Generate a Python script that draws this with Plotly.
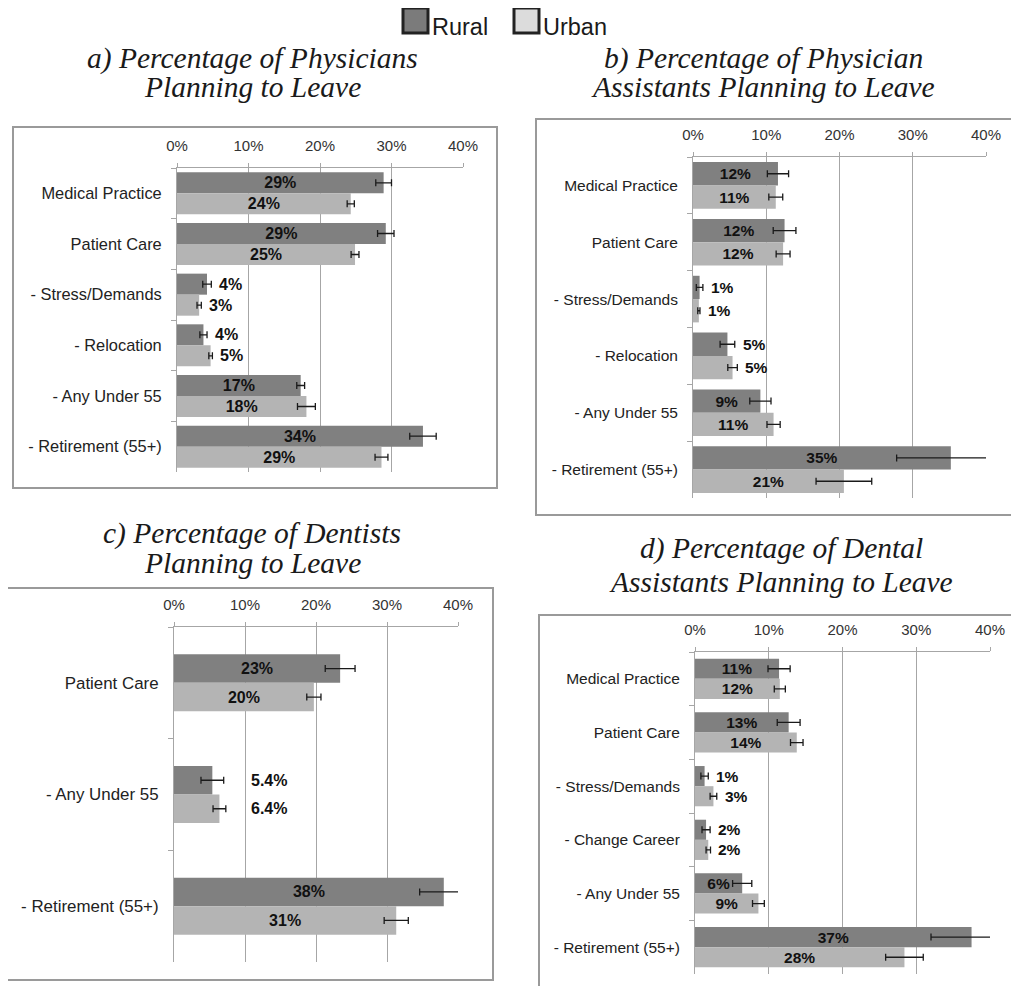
import plotly.graph_objects as go

# the page body keeps an 8px margin, so the figure is drawn 8px smaller and
# all pixel positions below are shifted by that offset
OFF = 8
W, H = 1019 - OFF, 986 - OFF

RURAL = "#808080"
URBAN = "#b4b4b4"
GRID = "#a6a6a6"
BOX = "#9a9a9a"
SANS = "Liberation Sans, Arial, sans-serif"
SERIF = "Liberation Serif, Times New Roman, serif"

# a) physicians
cats_a = ["Medical Practice", "Patient Care", "- Stress/Demands", "- Relocation",
          "- Any Under 55", "- Retirement (55+)"]
rural_a = [28.9, 29.2, 4.2, 3.7, 17.3, 34.4]
rural_err_a = [1.1, 1.15, 0.6, 0.5, 0.55, 1.85]
rural_lab_a = ["29%", "29%", "4%", "4%", "17%", "34%"]
urban_a = [24.3, 24.9, 3.1, 4.7, 18.1, 28.6]
urban_err_a = [0.5, 0.55, 0.3, 0.25, 1.25, 0.9]
urban_lab_a = ["24%", "25%", "3%", "5%", "18%", "29%"]

# b) physician assistants
cats_b = ["Medical Practice", "Patient Care", "- Stress/Demands", "- Relocation",
          "- Any Under 55", "- Retirement (55+)"]
rural_b = [11.6, 12.5, 0.9, 4.7, 9.2, 35.2]
rural_err_b = [1.45, 1.55, 0.45, 1.0, 1.45, 7.4]
rural_lab_b = ["12%", "12%", "1%", "5%", "9%", "35%"]
urban_b = [11.3, 12.3, 0.8, 5.4, 11.0, 20.6]
urban_err_b = [0.95, 0.95, 0.15, 0.65, 0.9, 3.8]
urban_lab_b = ["11%", "12%", "1%", "5%", "11%", "21%"]

# c) dentists
cats_c = ["Patient Care", "- Any Under 55", "- Retirement (55+)"]
rural_c = [23.4, 5.4, 38.0]
rural_err_c = [2.1, 1.6, 3.4]
rural_lab_c = ["23%", "5.4%", "38%"]
urban_c = [19.7, 6.4, 31.3]
urban_err_c = [1.0, 0.9, 1.7]
urban_lab_c = ["20%", "6.4%", "31%"]

# d) dental assistants
cats_d = ["Medical Practice", "Patient Care", "- Stress/Demands", "- Change Career",
          "- Any Under 55", "- Retirement (55+)"]
rural_d = [11.4, 12.7, 1.3, 1.5, 6.4, 37.5]
rural_err_d = [1.5, 1.55, 0.5, 0.55, 1.3, 5.5]
rural_lab_d = ["11%", "13%", "1%", "2%", "6%", "37%"]
urban_d = [11.5, 13.8, 2.5, 1.8, 8.6, 28.4]
urban_err_d = [0.75, 0.85, 0.45, 0.3, 0.8, 2.55]
urban_lab_d = ["12%", "14%", "3%", "2%", "9%", "28%"]


def px(x):
    return (x - OFF) / W


def py(y):
    return 1 - (y - OFF) / H


fig = go.Figure()
shapes, annotations = [], []


def add_panel(n, cats, series, plot, box, titles, title_x, title_y,
              width, lab_size, cat_size, thresh=6, label_x=None):
    xa, ya = ("x", "y") if n == 1 else (f"x{n}", f"y{n}")
    xkey, ykey = ("xaxis", "yaxis") if n == 1 else (f"xaxis{n}", f"yaxis{n}")

    for k, (vals, errs, labs, color) in enumerate(series):
        fig.add_trace(go.Bar(
            y=cats, x=vals, orientation="h", xaxis=xa, yaxis=ya,
            width=width, offset=-width if k == 0 else 0,
            marker=dict(color=color, line=dict(width=0)),
            text=[l if v >= thresh else "" for v, l in zip(vals, labs)],
            textposition="inside", insidetextanchor="middle", constraintext="none",
            textfont=dict(family=SANS, size=lab_size, color="#111", weight="bold"),
            error_x=dict(type="data", array=errs, color="#1a1a1a", thickness=1.3, width=3.5),
            showlegend=False, hoverinfo="skip",
        ))
        # labels for short bars sit to the right of the error bar
        for i, (v, e, l) in enumerate(zip(vals, errs, labs)):
            if v >= thresh:
                continue
            annotations.append(dict(
                x=label_x if label_x is not None else v + e,
                y=i - width / 2 if k == 0 else i + width / 2,
                xref=xa, yref=ya, text=l, showarrow=False,
                xanchor="left", yanchor="middle", xshift=0 if label_x else 6,
                font=dict(family=SANS, size=lab_size, color="#111", weight="bold"),
            ))

    x0, y0, x1, y1 = plot
    fig.layout[xkey] = dict(
        domain=[px(x0), px(x1)], anchor=ya, side="top", range=[0, 40], automargin=False,
        tick0=0, dtick=10, ticksuffix="%", showgrid=True, gridcolor=GRID, gridwidth=1,
        showline=True, linecolor=GRID, linewidth=1, zeroline=False,
        ticks="outside", ticklen=4, tickcolor=GRID, ticklabelstandoff=6,
        tickfont=dict(family=SANS, size=15, color="#333"), fixedrange=True,
    )
    fig.layout[ykey] = dict(
        domain=[py(y1), py(y0)], anchor=xa, type="category", autorange="reversed",
        automargin=False,
        showline=True, linecolor=GRID, linewidth=1, showgrid=False,
        ticks="outside", ticklen=5, tickcolor=GRID, tickson="boundaries",
        ticklabelstandoff=11, tickfont=dict(family=SANS, size=cat_size, color="#222"),
        fixedrange=True,
    )

    bx0, by0, bx1, by1 = box
    shapes.append(dict(type="rect", xref="paper", yref="paper",
                       x0=px(bx0), x1=px(bx1), y0=py(by1), y1=py(by0),
                       line=dict(color=BOX, width=2), fillcolor="rgba(0,0,0,0)"))
    for t, ty in zip(titles, title_y):
        annotations.append(dict(
            x=px(title_x), y=py(ty), xref="paper", yref="paper", text=t,
            showarrow=False, xanchor="center", yanchor="middle",
            font=dict(family=SERIF, size=29.5, color="#1a1a1a", style="italic"),
        ))


add_panel(1, cats_a,
          [(rural_a, rural_err_a, rural_lab_a, RURAL), (urban_a, urban_err_a, urban_lab_a, URBAN)],
          (177, 168, 463, 472), (13, 127, 497, 488),
          ["a) Percentage of Physicians", "Planning to Leave"], 252, [58, 87],
          0.415, 16, 16.4)
add_panel(2, cats_b,
          [(rural_b, rural_err_b, rural_lab_b, RURAL), (urban_b, urban_err_b, urban_lab_b, URBAN)],
          (693, 157, 986, 498), (536, 119, 1018, 515),
          ["b) Percentage of Physician", "Assistants Planning to Leave"], 763, [58, 87],
          0.41, 15.5, 15.5)
add_panel(3, cats_c,
          [(rural_c, rural_err_c, rural_lab_c, RURAL), (urban_c, urban_err_c, urban_lab_c, URBAN)],
          (174, 627, 458, 962), (7, 588, 493, 980),
          ["c) Percentage of Dentists", "Planning to Leave"], 252, [533, 563],
          0.255, 16, 16.9, thresh=7, label_x=10.6)
add_panel(4, cats_d,
          [(rural_d, rural_err_d, rural_lab_d, RURAL), (urban_d, urban_err_d, urban_lab_d, URBAN)],
          (695, 652, 990, 974), (539, 615, 1030, 1000),
          ["d) Percentage of Dental", "Assistants Planning to Leave"], 781, [548, 582],
          0.375, 15.5, 15.5)

# legend drawn by hand: framed squares with labels
for sx, fill, name in [(403, "#7b7b7b", "Rural"), (514, "#dcdcdc", "Urban")]:
    shapes.append(dict(type="rect", xref="paper", yref="paper",
                       x0=px(sx), x1=px(sx + 25), y0=py(33), y1=py(8),
                       line=dict(color="#222", width=3), fillcolor=fill))
    annotations.append(dict(x=px(sx + 27), y=py(27), xref="paper", yref="paper",
                            text=name, showarrow=False, xanchor="left", yanchor="middle",
                            font=dict(family=SANS, size=23.5, color="#1a1a1a")))

fig.update_layout(
    width=W, height=H, margin=dict(l=0, r=0, t=0, b=0, autoexpand=False),
    paper_bgcolor="white", plot_bgcolor="white",
    barmode="overlay", shapes=shapes, annotations=annotations,
    showlegend=False,
)

fig.write_html("out.html")
